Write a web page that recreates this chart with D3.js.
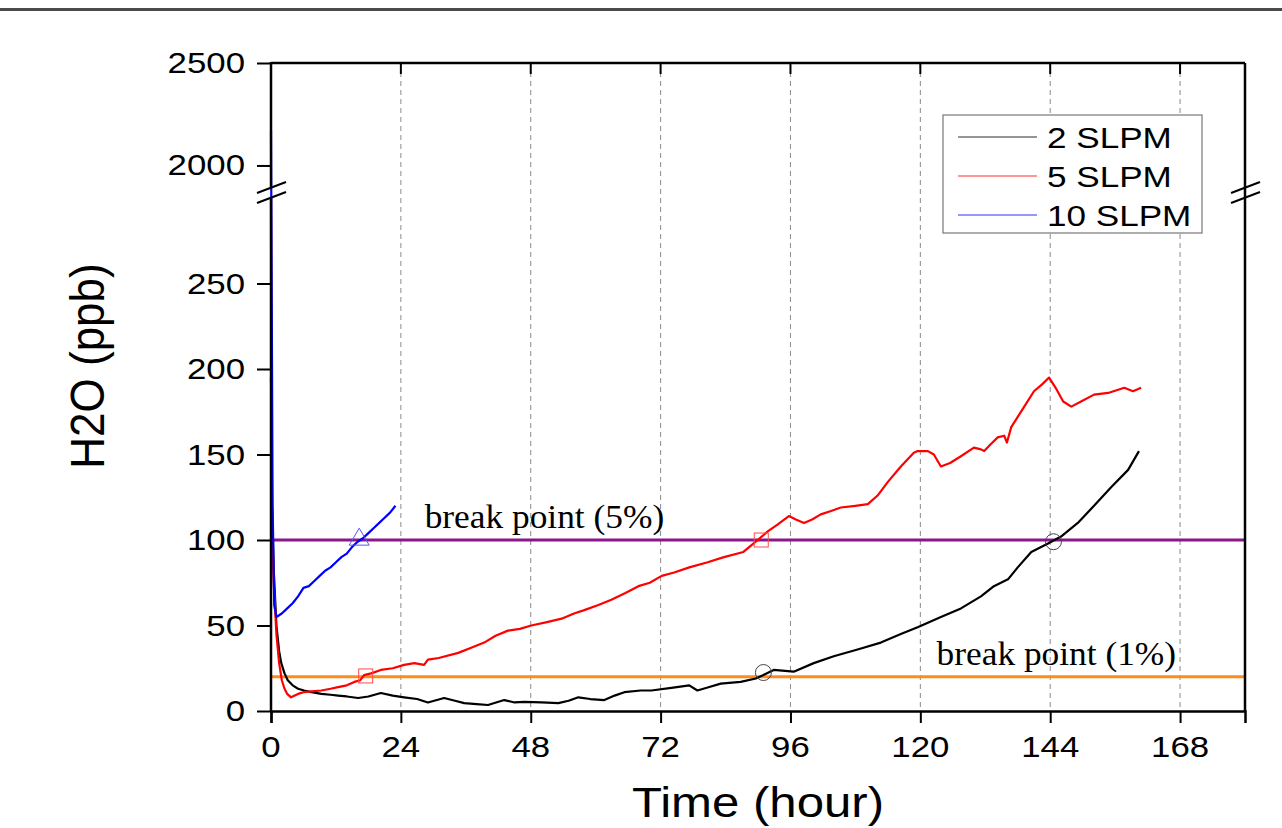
<!DOCTYPE html>
<html>
<head>
<meta charset="utf-8">
<script src="https://cdn.jsdelivr.net/npm/d3@7"></script>
<style>
  body { margin: 0; background: #fff; }
  svg { display: block; }
</style>
</head>
<body>
<svg id="chart" width="1282" height="828"></svg>
<script>
// series (hour, ppb)
const blackT = [0, 0.2, 0.5, 1, 1.5, 1.9, 2.5, 3.1, 4, 5, 6.1, 7.5, 9.3, 11, 12.4, 14, 16.1, 18, 20.3, 22.5, 24.6, 27, 29, 32, 34, 35.7, 38, 40.1, 43.1, 45, 46.8, 50, 53.1, 55, 56.8, 59, 61.6, 63.5, 65.3, 68.3, 70.3, 74, 77.3, 78.8, 81, 83.1, 86.8, 89.6, 91, 92.9, 96.6, 100.3, 104, 108.4, 112.7, 116.4, 119.5, 123.8, 127.5, 131.2, 133.6, 136.2, 138, 140.5, 143.6, 146, 149.1, 152.1, 155.3, 158.4, 160.4];
const blackV = [195, 120, 83, 50, 35, 28, 22, 18, 15, 13, 12, 11, 10, 9.5, 9, 8.5, 7.6, 8.5, 10.5, 9, 8, 7, 5, 7.6, 6, 4.6, 4, 3.5, 6.4, 5, 5.3, 5, 4.6, 6, 8, 7, 6.4, 9, 11, 12, 12, 13.5, 15, 12, 14, 16, 17, 19, 21, 24, 23, 28, 32, 36, 40, 45, 49, 55, 60, 67, 73, 77, 84, 93, 98, 102, 110, 120, 131, 141, 152];

const redT = [0, 0.1, 0.5, 1, 1.5, 2, 2.5, 3, 3.7, 5, 6, 7.5, 9.3, 11, 12.4, 14, 15.4, 16.5, 17.2, 18.5, 20.3, 22.5, 24.6, 26.5, 28.3, 29, 31, 34.6, 37, 39.4, 41.5, 43.8, 46, 48.1, 51, 53.7, 56, 57.9, 60.5, 62.9, 65.5, 67.9, 70, 72.2, 74.5, 77.3, 80.7, 83.7, 87.3, 89.2, 91.8, 93.6, 95.7, 97, 98.5, 100, 101.6, 103.5, 105.3, 108, 110.3, 112.1, 114, 116.4, 118.8, 119.5, 121.4, 122.5, 123.8, 125.5, 127.5, 129.9, 131.2, 131.8, 133, 134.3, 135.5, 136, 136.8, 138, 139.2, 141, 142.5, 143.8, 145, 146.4, 147.9, 149.7, 152.1, 154.7, 157.7, 159.3, 160.8];
const redV = [300, 112, 75, 45, 28, 18, 13, 10, 8, 10, 11, 11.5, 12, 13, 14, 15, 17, 18, 21, 22, 24, 25, 27, 28, 27, 30, 31, 34, 37, 40, 44, 47, 48, 50, 52, 54, 57, 59, 62, 65, 69, 73, 75, 79, 81, 84, 87, 90, 93, 98, 105, 109, 114, 112, 110, 112, 115, 117, 119, 120, 121, 126, 134, 143, 151, 152, 152, 150, 143, 145, 149, 154, 153, 152, 156, 160, 161, 157, 166, 172, 178, 187, 191, 195, 189, 181, 178, 181, 185, 186, 189, 187, 189];

const blueT = [0, 0.3, 0.6, 1, 2, 3, 4, 5, 6, 7, 8, 9, 10, 11, 12, 13, 14, 15, 16, 17, 18, 19, 20, 21, 22, 23];
const blueV = [2170, 120, 62, 55, 57, 60, 63, 67, 72, 73, 76, 79, 82, 84, 87, 90, 92, 96, 99, 101, 104, 107, 110, 113, 116, 120];

const seriesNames = ["2 SLPM", "5 SLPM", "10 SLPM"];
const seriesColors = ["#000000", "#ff0000", "#0000ff"];

const xTicks = [0, 24, 48, 72, 96, 120, 144, 168];
const xMinor = [12, 36, 60, 84, 108, 132, 156, 180];
const yLowTicks = [0, 50, 100, 150, 200, 250];
const yLowMinor = [25, 75, 125, 175, 225, 275];
const yHighTicks = [2000, 2500];
const yHighMinor = [2250];

const breakLines = [
  { value: 100, label: "break point (5%)", color: "#8b158b", labelAt: 28.4 },
  { value: 20, label: "break point (1%)", color: "#ff8c1a", labelAt: 123 }
];

// breakthrough markers
const circleMarks = [[91, 22.5], [144.6, 99]];
const squareMarks = [[17.5, 20.5], [90.6, 100]];
const triangleMarks = [[16.3, 100.5]];

const svg = d3.select("#chart");
const plotLeft = 271, plotRight = 1245, plotTop = 63, plotBottom = 711;
const lowTop = 198, highBottom = 188;

const x = d3.scaleLinear().domain([0, 180]).range([plotLeft, plotRight]);
const yLow = d3.scaleLinear().domain([0, 300]).range([plotBottom, lowTop]);
const yHigh = d3.scaleLinear().domain([1890, 2500]).range([highBottom, plotTop]);
// broken axis: piecewise scale used for the data
const y = d3.scaleLinear().domain([0, 300, 1890, 2500]).range([plotBottom, lowTop, highBottom, plotTop]);

const sansFont = "'Liberation Sans', Arial, sans-serif";
const serifFont = "'Liberation Serif', 'Times New Roman', serif";

function wideText(g, px, py, str, size, sx, anchor) {
  return g.append("text")
    .attr("transform", `translate(${px},${py}) scale(${sx},1)`)
    .attr("text-anchor", anchor)
    .attr("font-family", sansFont)
    .attr("font-size", size)
    .attr("fill", "#000")
    .text(str);
}

// thin rule at the top of the page
svg.append("rect").attr("x", 0).attr("y", 8).attr("width", 1282).attr("height", 3).attr("fill", "#4a4a4a");

// dashed vertical grid
svg.append("g").selectAll("line").data(xTicks.filter(d => d > 0)).enter().append("line")
  .attr("x1", d => x(d)).attr("x2", d => x(d))
  .attr("y1", plotTop).attr("y2", plotBottom)
  .attr("stroke", "#8a8a8a").attr("stroke-width", 1).attr("stroke-dasharray", "5,4");

// break point lines
breakLines.forEach(b => {
  svg.append("line")
    .attr("x1", plotLeft).attr("x2", plotRight)
    .attr("y1", y(b.value)).attr("y2", y(b.value))
    .attr("stroke", b.color).attr("stroke-width", 3);
  svg.append("text")
    .attr("transform", `translate(${x(b.labelAt)},${y(b.value) - 12}) scale(1.04,1)`)
    .attr("font-family", serifFont).attr("font-size", 34)
    .attr("fill", "#000").text(b.label);
});

// data lines
const line = d3.line().x(d => x(d[0])).y(d => y(d[1]));
const seriesData = [
  d3.zip(blackT, blackV),
  d3.zip(redT, redV),
  d3.zip(blueT, blueV)
];
seriesData.forEach((s, i) => {
  svg.append("path").datum(s)
    .attr("d", line)
    .attr("fill", "none")
    .attr("stroke", seriesColors[i])
    .attr("stroke-width", 2.2)
    .attr("stroke-linejoin", "round");
});

// markers
svg.append("g").selectAll("circle").data(circleMarks).enter().append("circle")
  .attr("cx", d => x(d[0])).attr("cy", d => y(d[1])).attr("r", 8)
  .attr("fill", "none").attr("stroke", "#444").attr("stroke-width", 1);
svg.append("g").selectAll("rect").data(squareMarks).enter().append("rect")
  .attr("x", d => x(d[0]) - 7).attr("y", d => y(d[1]) - 7)
  .attr("width", 14).attr("height", 14)
  .attr("fill", "none").attr("stroke", "#ff4a4a").attr("stroke-width", 1);
svg.append("g").selectAll("path").data(triangleMarks).enter().append("path")
  .attr("d", d => {
    const cx = x(d[0]), cy = y(d[1]);
    return `M${cx - 10},${cy + 6}L${cx + 10},${cy + 6}L${cx},${cy - 11}Z`;
  })
  .attr("fill", "none").attr("stroke", "#5555ff").attr("stroke-width", 1);

// frame: top and right
const axisStroke = 2.5;
svg.append("line").attr("x1", plotLeft).attr("x2", plotRight).attr("y1", plotTop).attr("y2", plotTop)
  .attr("stroke", "#000").attr("stroke-width", axisStroke);
svg.append("line").attr("x1", plotRight).attr("x2", plotRight).attr("y1", plotTop).attr("y2", plotBottom)
  .attr("stroke", "#000").attr("stroke-width", axisStroke);

// top inward ticks
svg.append("g").selectAll("line").data(xTicks.filter(d => d > 0)).enter().append("line")
  .attr("x1", d => x(d)).attr("x2", d => x(d))
  .attr("y1", plotTop).attr("y2", plotTop + 11)
  .attr("stroke", "#000").attr("stroke-width", 2);

// bottom axis
const gx = svg.append("g").attr("transform", `translate(0,${plotBottom})`);
gx.call(d3.axisBottom(x).tickValues(xMinor).tickSize(6).tickFormat(""));
gx.call(d3.axisBottom(x).tickValues(xTicks).tickSize(12).tickFormat(""));
gx.selectAll(".domain").attr("stroke-width", axisStroke);
gx.selectAll(".tick line").attr("stroke-width", 2);
xTicks.forEach(t => wideText(svg, x(t), 757, String(t), 29, 1.2, "middle"));

// left axis, two segments
const gyLow = svg.append("g").attr("transform", `translate(${plotLeft},0)`);
gyLow.call(d3.axisLeft(yLow).tickValues(yLowMinor).tickSize(8).tickFormat(""));
gyLow.call(d3.axisLeft(yLow).tickValues(yLowTicks).tickSize(14).tickFormat(""));
const gyHigh = svg.append("g").attr("transform", `translate(${plotLeft},0)`);
gyHigh.call(d3.axisLeft(yHigh).tickValues(yHighMinor).tickSize(8).tickFormat(""));
gyHigh.call(d3.axisLeft(yHigh).tickValues(yHighTicks).tickSize(14).tickFormat(""));
[gyLow, gyHigh].forEach(g => {
  g.selectAll(".domain").remove();
  g.selectAll(".tick line").attr("stroke-width", 2);
});
svg.append("line").attr("x1", plotLeft).attr("x2", plotLeft).attr("y1", lowTop).attr("y2", plotBottom + 1)
  .attr("stroke", "#000").attr("stroke-width", axisStroke);
svg.append("line").attr("x1", plotLeft).attr("x2", plotLeft).attr("y1", plotTop - 1).attr("y2", highBottom)
  .attr("stroke", "#000").attr("stroke-width", axisStroke);
yLowTicks.forEach(t => wideText(svg, 245, yLow(t) + 10, String(t), 29, 1.2, "end"));
yHighTicks.forEach(t => wideText(svg, 245, yHigh(t) + 10, String(t), 29, 1.2, "end"));

// axis break marks
[plotLeft, plotRight].forEach(ax => {
  [-5, 5].forEach(off => {
    svg.append("line")
      .attr("x1", ax - 14).attr("y1", 193 + off + 5)
      .attr("x2", ax + 15).attr("y2", 193 + off - 6)
      .attr("stroke", "#000").attr("stroke-width", 2);
  });
});

// axis titles
wideText(svg, 758, 817, "Time (hour)", 42, 1.17, "middle");
svg.append("text")
  .attr("transform", "translate(104,366) rotate(-90) scale(1,1.08)")
  .attr("text-anchor", "middle")
  .attr("font-family", sansFont).attr("font-size", 44)
  .attr("fill", "#000").text("H2O (ppb)");

// legend
const lg = svg.append("g");
lg.append("rect").attr("x", 943).attr("y", 115).attr("width", 259).attr("height", 118)
  .attr("fill", "#fff").attr("stroke", "#777").attr("stroke-width", 1.2);
const legendY = [137, 176, 215];
seriesNames.forEach((name, i) => {
  lg.append("line").attr("x1", 958).attr("x2", 1037)
    .attr("y1", legendY[i]).attr("y2", legendY[i])
    .attr("stroke", seriesColors[i]).attr("stroke-opacity", 0.55).attr("stroke-width", 1.3);
  wideText(lg, 1047, legendY[i] + 11, name, 30, 1.17, "start");
});
</script>
</body>
</html>
